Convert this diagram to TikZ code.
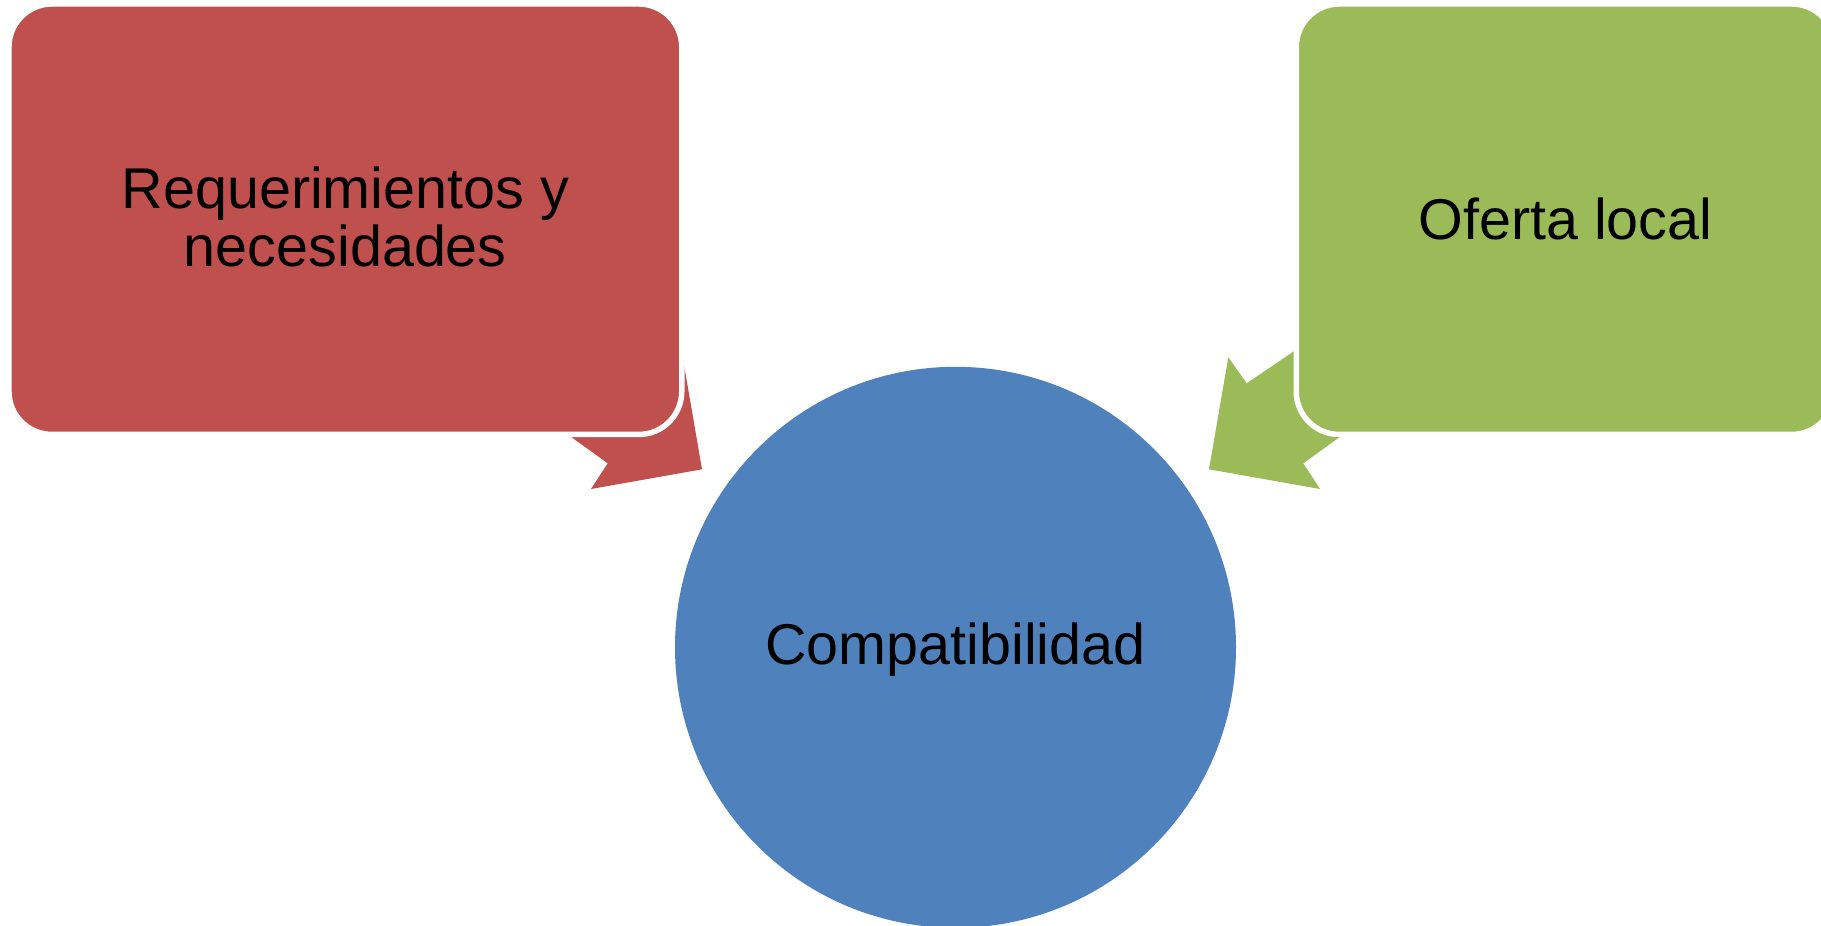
\documentclass[tikz,border=0pt]{standalone}
\usepackage{fontspec}
\setmainfont{Liberation Sans}
\definecolor{boxred}{HTML}{C0504D}
\definecolor{boxgreen}{HTML}{9BBB59}
\definecolor{circblue}{HTML}{4F81BD}
\tikzset{
  bigtext/.style={font=\fontsize{57.5}{58.4}\selectfont},
  infobox/.style={rectangle, rounded corners=43pt, draw=white, line width=5.5pt,
    minimum height=430.5pt, inner sep=0pt, align=center, bigtext},
  bubble/.style={circle, fill=circblue, minimum size=561pt, inner sep=0pt, text depth=8pt, bigtext}
}
\begin{document}
\begin{tikzpicture}[x=1pt,y=-1pt]
\useasboundingbox[fill=white] (0,0) rectangle (1821,926);
% block arrows (behind the boxes)
\fill[boxred] (702,469.3) -- (682.7,357.3) -- (664.3,383.3) -- (571,320) -- (531,408)
  -- (607.7,463.3) -- (591,489) -- cycle;
\fill[boxgreen] (1209,469.3) -- (1228.3,357.3) -- (1246.7,383.3) -- (1340,320) -- (1380,408)
  -- (1303.3,463.3) -- (1320,489) -- cycle;
% nodes
\node[infobox, fill=boxred, minimum width=672.8pt, text depth=5pt] (req) at (345.35,219.2) {Requerimientos y\\necesidades};
\node[infobox, fill=boxgreen, minimum width=538.5pt, text depth=2pt] (oferta) at (1565.5,219.2) {Oferta local};
\node[bubble] (comp) at (955.5,647.3) {Compatibilidad};
\end{tikzpicture}
\end{document}
